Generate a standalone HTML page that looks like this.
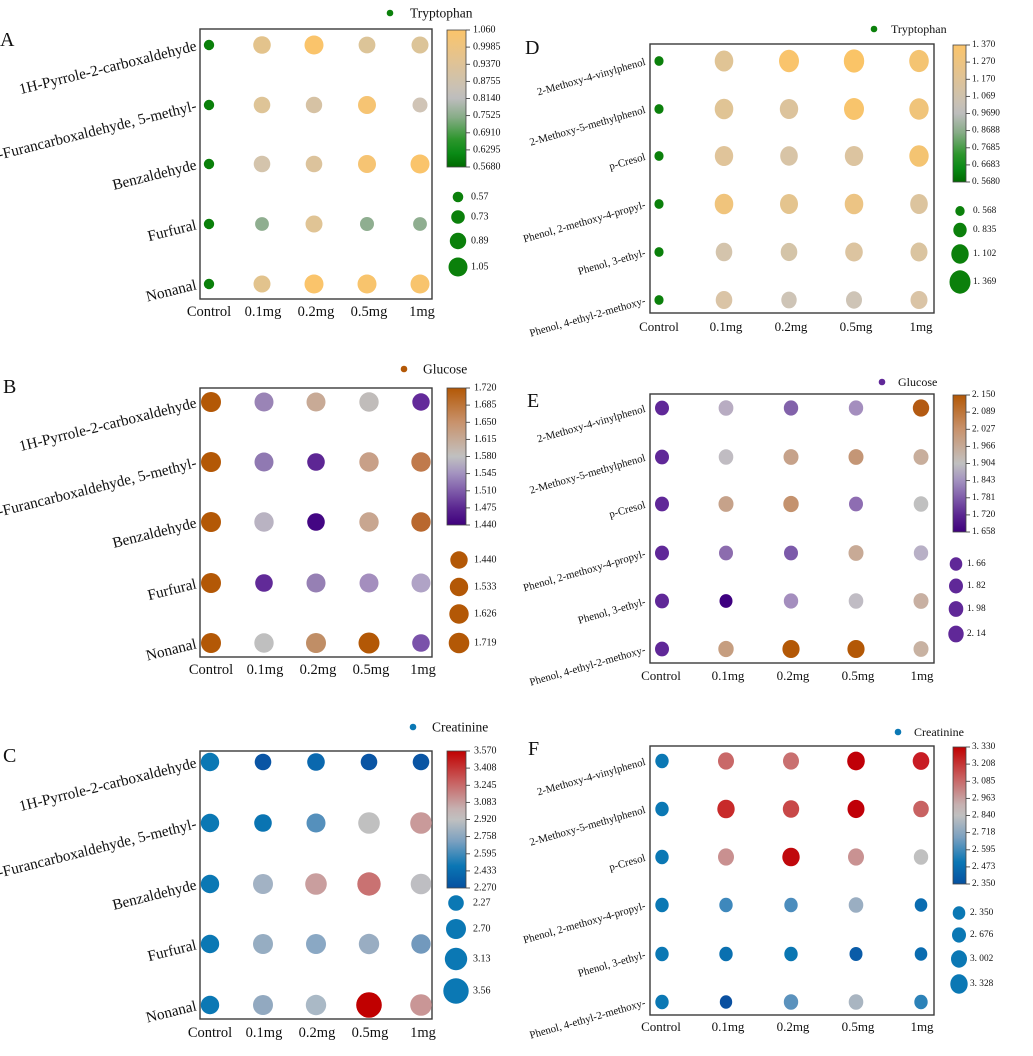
<!DOCTYPE html>
<html>
<head>
<meta charset="utf-8">
<style>
html,body{margin:0;padding:0;background:#fff;}
svg{display:block;}
text{font-family:"Liberation Serif",serif;fill:#111;}
.yl{font-size:15.2px;}
.yr{font-size:10.8px;}
.xl{font-size:14.5px;text-anchor:middle;}
.xr{font-size:13px;text-anchor:middle;}
.cbl{font-size:10px;dominant-baseline:central;}
.cbr{font-size:9.3px;dominant-baseline:central;fill:#333;}
.lt{font-size:13.5px;}
.ltr{font-size:12px;}
.pl{font-size:20px;}
.frame{fill:none;stroke:#3a3a3a;stroke-width:1.4;}
.cb{stroke:#444;stroke-width:0.8;}
.tk{stroke:#444;stroke-width:0.9;}
</style>
</head>
<body>
<svg width="1033" height="1056" viewBox="0 0 1033 1056" xmlns="http://www.w3.org/2000/svg">
<defs>
<linearGradient id="gA" x1="0" y1="0" x2="0" y2="1">
<stop offset="0" stop-color="#fbc46a"/>
<stop offset="0.22" stop-color="#e2c392"/>
<stop offset="0.42" stop-color="#c9c1b4"/>
<stop offset="0.5" stop-color="#bdbdbd"/>
<stop offset="0.64" stop-color="#86ac86"/>
<stop offset="0.8" stop-color="#2c962c"/>
<stop offset="0.9" stop-color="#0a8a16"/>
<stop offset="1" stop-color="#006a00"/>
</linearGradient>
<linearGradient id="gB" x1="0" y1="0" x2="0" y2="1">
<stop offset="0" stop-color="#b35806"/>
<stop offset="0.25" stop-color="#c8926c"/>
<stop offset="0.45" stop-color="#c4b8b0"/>
<stop offset="0.5" stop-color="#c0c0c0"/>
<stop offset="0.62" stop-color="#a494c0"/>
<stop offset="0.76" stop-color="#7c58a8"/>
<stop offset="0.88" stop-color="#5a2590"/>
<stop offset="1" stop-color="#3f007d"/>
</linearGradient>
<linearGradient id="gC" x1="0" y1="0" x2="0" y2="1">
<stop offset="0" stop-color="#c00000"/>
<stop offset="0.22" stop-color="#c85e5e"/>
<stop offset="0.42" stop-color="#c6b0b0"/>
<stop offset="0.5" stop-color="#c0c0c0"/>
<stop offset="0.66" stop-color="#7aa0c0"/>
<stop offset="0.84" stop-color="#0a76b4"/>
<stop offset="1" stop-color="#0550a0"/>
</linearGradient>
</defs>
<rect width="1033" height="1056" fill="#fff"/>

<!-- ================= PANEL A ================= -->
<text class="pl" x="0" y="46">A</text>
<circle cx="390" cy="13" r="3.3" fill="#0b800b"/>
<text class="lt" x="410" y="17.5">Tryptophan</text>
<rect class="frame" x="200" y="29" width="232" height="270"/>
<g>
<circle cx="209" cy="45" r="5.2" fill="#0b800b"/>
<circle cx="262" cy="45" r="8.8" fill="#e3c38c"/>
<circle cx="314" cy="45" r="9.5" fill="#fac46b"/>
<circle cx="367" cy="45" r="8.4" fill="#dcc498"/>
<circle cx="420" cy="45" r="8.5" fill="#dcc498"/>
<circle cx="209" cy="105" r="5.2" fill="#0b800b"/>
<circle cx="262" cy="105" r="8.3" fill="#dec497"/>
<circle cx="314" cy="105" r="8.2" fill="#d6c2a4"/>
<circle cx="367" cy="105" r="9" fill="#f6c473"/>
<circle cx="420" cy="105" r="7.5" fill="#d0c4b6"/>
<circle cx="209" cy="164" r="5.2" fill="#0b800b"/>
<circle cx="262" cy="164" r="8.3" fill="#d4c4ac"/>
<circle cx="314" cy="164" r="8.3" fill="#dcc39c"/>
<circle cx="367" cy="164" r="9" fill="#f6c473"/>
<circle cx="420" cy="164" r="9.5" fill="#fac46b"/>
<circle cx="209" cy="224" r="5.2" fill="#0b800b"/>
<circle cx="262" cy="224" r="6.9" fill="#8fae90"/>
<circle cx="314" cy="224" r="8.5" fill="#e0c495"/>
<circle cx="367" cy="224" r="7" fill="#8fae90"/>
<circle cx="420" cy="224" r="6.9" fill="#8fae90"/>
<circle cx="209" cy="284" r="5.2" fill="#0b800b"/>
<circle cx="262" cy="284" r="8.5" fill="#e2c38d"/>
<circle cx="314" cy="284" r="9.5" fill="#fac46b"/>
<circle cx="367" cy="284" r="9.5" fill="#f8c46d"/>
<circle cx="420" cy="284" r="9.5" fill="#f8c46d"/>
</g>
<g class="yl">
<text transform="translate(196,45) rotate(-14)" text-anchor="end" dy="0.35em">1H-Pyrrole-2-carboxaldehyde</text>
<text transform="translate(196,105) rotate(-14)" text-anchor="end" dy="0.35em">2-Furancarboxaldehyde, 5-methyl-</text>
<text transform="translate(196,164) rotate(-14)" text-anchor="end" dy="0.35em">Benzaldehyde</text>
<text transform="translate(196,224) rotate(-14)" text-anchor="end" dy="0.35em">Furfural</text>
<text transform="translate(196,284) rotate(-14)" text-anchor="end" dy="0.35em">Nonanal</text>
</g>
<g class="xl">
<text x="209" y="316">Control</text><text x="263" y="316">0.1mg</text><text x="316" y="316">0.2mg</text><text x="369" y="316">0.5mg</text><text x="422" y="316">1mg</text>
</g>
<rect class="cb" x="447" y="30" width="19" height="137" fill="url(#gA)"/>
<g class="tk">
<line x1="466" y1="30" x2="470" y2="30"/><line x1="466" y1="47.1" x2="470" y2="47.1"/><line x1="466" y1="64.3" x2="470" y2="64.3"/><line x1="466" y1="81.4" x2="470" y2="81.4"/><line x1="466" y1="98.5" x2="470" y2="98.5"/><line x1="466" y1="115.6" x2="470" y2="115.6"/><line x1="466" y1="132.8" x2="470" y2="132.8"/><line x1="466" y1="149.9" x2="470" y2="149.9"/><line x1="466" y1="167" x2="470" y2="167"/>
</g>
<g class="cbl">
<text x="473" y="30">1.060</text><text x="473" y="47.1">0.9985</text><text x="473" y="64.3">0.9370</text><text x="473" y="81.4">0.8755</text><text x="473" y="98.5">0.8140</text><text x="473" y="115.6">0.7525</text><text x="473" y="132.8">0.6910</text><text x="473" y="149.9">0.6295</text><text x="473" y="167">0.5680</text>
</g>
<circle cx="458" cy="197" r="5.3" fill="#0b800b"/>
<circle cx="458" cy="217" r="6.8" fill="#0b800b"/>
<circle cx="458" cy="241" r="8.2" fill="#0b800b"/>
<circle cx="458" cy="267" r="9.5" fill="#0b800b"/>
<g class="cbl"><text x="471" y="197">0.57</text><text x="471" y="217">0.73</text><text x="471" y="241">0.89</text><text x="471" y="267">1.05</text></g>

<!-- ================= PANEL B ================= -->
<text class="pl" x="3" y="393">B</text>
<circle cx="404" cy="369" r="3.3" fill="#b35806"/>
<text class="lt" x="423" y="373.5">Glucose</text>
<rect class="frame" x="200" y="388" width="232" height="269"/>
<g>
<circle cx="211" cy="402" r="10" fill="#b35806"/>
<circle cx="264" cy="402" r="9.5" fill="#9a84b6"/>
<circle cx="316" cy="402" r="9.5" fill="#c8aa96"/>
<circle cx="369" cy="402" r="9.7" fill="#c0bcba"/>
<circle cx="421" cy="402" r="8.7" fill="#632a9a"/>
<circle cx="211" cy="462" r="10" fill="#b35806"/>
<circle cx="264" cy="462" r="9.5" fill="#9079b2"/>
<circle cx="316" cy="462" r="8.8" fill="#5d2694"/>
<circle cx="369" cy="462" r="9.7" fill="#c8a088"/>
<circle cx="421" cy="462" r="9.7" fill="#c07a4c"/>
<circle cx="211" cy="522" r="10" fill="#b35806"/>
<circle cx="264" cy="522" r="9.7" fill="#b9b3c2"/>
<circle cx="316" cy="522" r="8.8" fill="#430683"/>
<circle cx="369" cy="522" r="9.7" fill="#c8a690"/>
<circle cx="421" cy="522" r="9.7" fill="#b9682e"/>
<circle cx="211" cy="583" r="10" fill="#b35806"/>
<circle cx="264" cy="583" r="8.8" fill="#612a98"/>
<circle cx="316" cy="583" r="9.5" fill="#9680b4"/>
<circle cx="369" cy="583" r="9.5" fill="#a48ebe"/>
<circle cx="421" cy="583" r="9.5" fill="#b0a3c6"/>
<circle cx="211" cy="643" r="10" fill="#b35806"/>
<circle cx="264" cy="643" r="9.7" fill="#bfbfbf"/>
<circle cx="316" cy="643" r="10" fill="#c08e66"/>
<circle cx="369" cy="643" r="10.5" fill="#b35806"/>
<circle cx="421" cy="643" r="8.8" fill="#7a52aa"/>
</g>
<g class="yl">
<text transform="translate(196,402) rotate(-14)" text-anchor="end" dy="0.35em">1H-Pyrrole-2-carboxaldehyde</text>
<text transform="translate(196,462) rotate(-14)" text-anchor="end" dy="0.35em">2-Furancarboxaldehyde, 5-methyl-</text>
<text transform="translate(196,522) rotate(-14)" text-anchor="end" dy="0.35em">Benzaldehyde</text>
<text transform="translate(196,583) rotate(-14)" text-anchor="end" dy="0.35em">Furfural</text>
<text transform="translate(196,643) rotate(-14)" text-anchor="end" dy="0.35em">Nonanal</text>
</g>
<g class="xl">
<text x="211" y="674">Control</text><text x="265" y="674">0.1mg</text><text x="318" y="674">0.2mg</text><text x="371" y="674">0.5mg</text><text x="423" y="674">1mg</text>
</g>
<rect class="cb" x="447" y="388" width="19" height="137" fill="url(#gB)"/>
<g class="tk">
<line x1="466" y1="388" x2="470" y2="388"/><line x1="466" y1="405.1" x2="470" y2="405.1"/><line x1="466" y1="422.3" x2="470" y2="422.3"/><line x1="466" y1="439.4" x2="470" y2="439.4"/><line x1="466" y1="456.5" x2="470" y2="456.5"/><line x1="466" y1="473.6" x2="470" y2="473.6"/><line x1="466" y1="490.8" x2="470" y2="490.8"/><line x1="466" y1="507.9" x2="470" y2="507.9"/><line x1="466" y1="525" x2="470" y2="525"/>
</g>
<g class="cbl">
<text x="474" y="388">1.720</text><text x="474" y="405.1">1.685</text><text x="474" y="422.3">1.650</text><text x="474" y="439.4">1.615</text><text x="474" y="456.5">1.580</text><text x="474" y="473.6">1.545</text><text x="474" y="490.8">1.510</text><text x="474" y="507.9">1.475</text><text x="474" y="525">1.440</text>
</g>
<circle cx="459" cy="560" r="8.7" fill="#b35806"/>
<circle cx="459" cy="587" r="9.2" fill="#b35806"/>
<circle cx="459" cy="614" r="9.7" fill="#b35806"/>
<circle cx="459" cy="643" r="10.3" fill="#b35806"/>
<g class="cbl"><text x="474" y="560">1.440</text><text x="474" y="587">1.533</text><text x="474" y="614">1.626</text><text x="474" y="643">1.719</text></g>

<!-- ================= PANEL C ================= -->
<text class="pl" x="3" y="762">C</text>
<circle cx="413" cy="727" r="3.3" fill="#0b78b4"/>
<text class="lt" x="432" y="731.5">Creatinine</text>
<rect class="frame" x="200" y="751" width="232" height="268"/>
<g>
<circle cx="210" cy="762" r="9.2" fill="#0b78b4"/>
<circle cx="263" cy="762" r="8.3" fill="#0a55a4"/>
<circle cx="316" cy="762" r="8.8" fill="#0a68ae"/>
<circle cx="369" cy="762" r="8.3" fill="#0a55a4"/>
<circle cx="421" cy="762" r="8.3" fill="#0a55a4"/>
<circle cx="210" cy="823" r="9.2" fill="#0b78b4"/>
<circle cx="263" cy="823" r="8.8" fill="#0a74b2"/>
<circle cx="316" cy="823" r="9.5" fill="#5590bc"/>
<circle cx="369" cy="823" r="10.8" fill="#c0c0c0"/>
<circle cx="421" cy="823" r="10.8" fill="#c99a9a"/>
<circle cx="210" cy="884" r="9.2" fill="#0b78b4"/>
<circle cx="263" cy="884" r="10" fill="#a2b2c4"/>
<circle cx="316" cy="884" r="10.8" fill="#c99e9e"/>
<circle cx="369" cy="884" r="11.7" fill="#c97272"/>
<circle cx="421" cy="884" r="10.3" fill="#bebec2"/>
<circle cx="210" cy="944" r="9.2" fill="#0b78b4"/>
<circle cx="263" cy="944" r="10" fill="#96adc2"/>
<circle cx="316" cy="944" r="10" fill="#8aa8c4"/>
<circle cx="369" cy="944" r="10.2" fill="#99adc2"/>
<circle cx="421" cy="944" r="9.7" fill="#7299bd"/>
<circle cx="210" cy="1005" r="9.2" fill="#0b78b4"/>
<circle cx="263" cy="1005" r="10" fill="#92a9c0"/>
<circle cx="316" cy="1005" r="10.2" fill="#aab9c6"/>
<circle cx="369" cy="1005" r="12.8" fill="#c00000"/>
<circle cx="421" cy="1005" r="10.8" fill="#c99696"/>
</g>
<g class="yl">
<text transform="translate(196,762) rotate(-14)" text-anchor="end" dy="0.35em">1H-Pyrrole-2-carboxaldehyde</text>
<text transform="translate(196,823) rotate(-14)" text-anchor="end" dy="0.35em">2-Furancarboxaldehyde, 5-methyl-</text>
<text transform="translate(196,884) rotate(-14)" text-anchor="end" dy="0.35em">Benzaldehyde</text>
<text transform="translate(196,944) rotate(-14)" text-anchor="end" dy="0.35em">Furfural</text>
<text transform="translate(196,1005) rotate(-14)" text-anchor="end" dy="0.35em">Nonanal</text>
</g>
<g class="xl">
<text x="210" y="1037">Control</text><text x="264" y="1037">0.1mg</text><text x="317" y="1037">0.2mg</text><text x="370" y="1037">0.5mg</text><text x="423" y="1037">1mg</text>
</g>
<rect class="cb" x="447" y="751" width="19" height="137" fill="url(#gC)"/>
<g class="tk">
<line x1="466" y1="751" x2="470" y2="751"/><line x1="466" y1="768.1" x2="470" y2="768.1"/><line x1="466" y1="785.3" x2="470" y2="785.3"/><line x1="466" y1="802.4" x2="470" y2="802.4"/><line x1="466" y1="819.5" x2="470" y2="819.5"/><line x1="466" y1="836.6" x2="470" y2="836.6"/><line x1="466" y1="853.8" x2="470" y2="853.8"/><line x1="466" y1="870.9" x2="470" y2="870.9"/><line x1="466" y1="888" x2="470" y2="888"/>
</g>
<g class="cbl">
<text x="474" y="751">3.570</text><text x="474" y="768.1">3.408</text><text x="474" y="785.3">3.245</text><text x="474" y="802.4">3.083</text><text x="474" y="819.5">2.920</text><text x="474" y="836.6">2.758</text><text x="474" y="853.8">2.595</text><text x="474" y="870.9">2.433</text><text x="474" y="888">2.270</text>
</g>
<circle cx="456" cy="903" r="7.8" fill="#0b78b4"/>
<circle cx="456" cy="929" r="10" fill="#0b78b4"/>
<circle cx="456" cy="959" r="11.2" fill="#0b78b4"/>
<circle cx="456" cy="991" r="12.7" fill="#0b78b4"/>
<g class="cbl"><text x="473" y="903">2.27</text><text x="473" y="929">2.70</text><text x="473" y="959">3.13</text><text x="473" y="991">3.56</text></g>

<!-- ================= PANEL D ================= -->
<text class="pl" x="525" y="54">D</text>
<circle cx="874" cy="29" r="3.3" fill="#0b800b"/>
<text class="ltr" x="891" y="33">Tryptophan</text>
<rect class="frame" x="650" y="44" width="284" height="269"/>
<g>
<ellipse cx="659" cy="61" rx="4.6" ry="4.9" fill="#0b800b"/>
<ellipse cx="724" cy="61" rx="9.3" ry="10.5" fill="#e0c495"/>
<ellipse cx="789" cy="61" rx="10" ry="11.2" fill="#f9c46c"/>
<ellipse cx="854" cy="61" rx="10.2" ry="11.6" fill="#fac467"/>
<ellipse cx="919" cy="61" rx="9.8" ry="11.1" fill="#f4c472"/>
<ellipse cx="659" cy="109" rx="4.6" ry="4.9" fill="#0b800b"/>
<ellipse cx="724" cy="109" rx="9.3" ry="10.3" fill="#e0c495"/>
<ellipse cx="789" cy="109" rx="9.2" ry="10" fill="#dcc39c"/>
<ellipse cx="854" cy="109" rx="10" ry="11" fill="#f8c46c"/>
<ellipse cx="919" cy="109" rx="9.7" ry="10.7" fill="#f0c47a"/>
<ellipse cx="659" cy="156" rx="4.6" ry="4.9" fill="#0b800b"/>
<ellipse cx="724" cy="156" rx="9.2" ry="10" fill="#e0c49a"/>
<ellipse cx="789" cy="156" rx="8.8" ry="9.7" fill="#d8c4a6"/>
<ellipse cx="854" cy="156" rx="9.2" ry="10" fill="#dcc4a0"/>
<ellipse cx="919" cy="156" rx="9.7" ry="10.8" fill="#f4c472"/>
<ellipse cx="659" cy="204" rx="4.6" ry="4.9" fill="#0b800b"/>
<ellipse cx="724" cy="204" rx="9.3" ry="10.3" fill="#f0c47c"/>
<ellipse cx="789" cy="204" rx="9" ry="10" fill="#e4c48e"/>
<ellipse cx="854" cy="204" rx="9.3" ry="10.3" fill="#ecc484"/>
<ellipse cx="919" cy="204" rx="8.8" ry="10" fill="#dcc49e"/>
<ellipse cx="659" cy="252" rx="4.6" ry="4.9" fill="#0b800b"/>
<ellipse cx="724" cy="252" rx="8.3" ry="9.3" fill="#d4c4ac"/>
<ellipse cx="789" cy="252" rx="8.3" ry="9.1" fill="#d4c4a8"/>
<ellipse cx="854" cy="252" rx="8.8" ry="9.5" fill="#dcc4a0"/>
<ellipse cx="919" cy="252" rx="8.5" ry="9.5" fill="#dac4a0"/>
<ellipse cx="659" cy="300" rx="4.6" ry="4.9" fill="#0b800b"/>
<ellipse cx="724" cy="300" rx="8.3" ry="9" fill="#dac4a6"/>
<ellipse cx="789" cy="300" rx="7.7" ry="8.4" fill="#cec4b6"/>
<ellipse cx="854" cy="300" rx="8" ry="8.7" fill="#cec4b6"/>
<ellipse cx="919" cy="300" rx="8.5" ry="9" fill="#dac4a6"/>
</g>
<g class="yr">
<text transform="translate(645,61) rotate(-16)" text-anchor="end" dy="0.35em">2-Methoxy-4-vinylphenol</text>
<text transform="translate(645,109) rotate(-16)" text-anchor="end" dy="0.35em">2-Methoxy-5-methylphenol</text>
<text transform="translate(645,156) rotate(-16)" text-anchor="end" dy="0.35em">p-Cresol</text>
<text transform="translate(645,204) rotate(-16)" text-anchor="end" dy="0.35em">Phenol, 2-methoxy-4-propyl-</text>
<text transform="translate(645,252) rotate(-16)" text-anchor="end" dy="0.35em">Phenol, 3-ethyl-</text>
<text transform="translate(645,300) rotate(-16)" text-anchor="end" dy="0.35em">Phenol, 4-ethyl-2-methoxy-</text>
</g>
<g class="xr">
<text x="659" y="331">Control</text><text x="726" y="331">0.1mg</text><text x="791" y="331">0.2mg</text><text x="856" y="331">0.5mg</text><text x="921" y="331">1mg</text>
</g>
<rect class="cb" x="953" y="45" width="13" height="137" fill="url(#gA)"/>
<g class="tk">
<line x1="966" y1="45" x2="970" y2="45"/><line x1="966" y1="62.1" x2="970" y2="62.1"/><line x1="966" y1="79.3" x2="970" y2="79.3"/><line x1="966" y1="96.4" x2="970" y2="96.4"/><line x1="966" y1="113.5" x2="970" y2="113.5"/><line x1="966" y1="130.6" x2="970" y2="130.6"/><line x1="966" y1="147.8" x2="970" y2="147.8"/><line x1="966" y1="164.9" x2="970" y2="164.9"/><line x1="966" y1="182" x2="970" y2="182"/>
</g>
<g class="cbr">
<text x="972" y="45">1. 370</text><text x="972" y="62.1">1. 270</text><text x="972" y="79.3">1. 170</text><text x="972" y="96.4">1. 069</text><text x="972" y="113.5">0. 9690</text><text x="972" y="130.6">0. 8688</text><text x="972" y="147.8">0. 7685</text><text x="972" y="164.9">0. 6683</text><text x="972" y="182">0. 5680</text>
</g>
<ellipse cx="960" cy="211" rx="4.7" ry="5" fill="#0b800b"/>
<ellipse cx="960" cy="230" rx="6.7" ry="7.2" fill="#0b800b"/>
<ellipse cx="960" cy="254" rx="8.7" ry="9.7" fill="#0b800b"/>
<ellipse cx="960" cy="282" rx="10.5" ry="11.7" fill="#0b800b"/>
<g class="cbr"><text x="973" y="211">0. 568</text><text x="973" y="230">0. 835</text><text x="973" y="254">1. 102</text><text x="973" y="282">1. 369</text></g>

<!-- ================= PANEL E ================= -->
<text class="pl" x="527" y="407">E</text>
<circle cx="882" cy="382" r="3.3" fill="#602898"/>
<text class="ltr" x="898" y="386">Glucose</text>
<rect class="frame" x="650" y="394" width="284" height="269"/>
<g>
<ellipse cx="662" cy="408" rx="7" ry="7.4" fill="#602898"/>
<ellipse cx="726" cy="408" rx="7.4" ry="7.8" fill="#b8acc2"/>
<ellipse cx="791" cy="408" rx="7.2" ry="7.6" fill="#8262aa"/>
<ellipse cx="856" cy="408" rx="7.2" ry="7.6" fill="#a48ebe"/>
<ellipse cx="921" cy="408" rx="8.2" ry="8.6" fill="#b35a12"/>
<ellipse cx="662" cy="457" rx="7" ry="7.4" fill="#602898"/>
<ellipse cx="726" cy="457" rx="7.3" ry="7.7" fill="#c0bcc2"/>
<ellipse cx="791" cy="457" rx="7.5" ry="7.9" fill="#c6a28a"/>
<ellipse cx="856" cy="457" rx="7.5" ry="7.9" fill="#c49676"/>
<ellipse cx="921" cy="457" rx="7.5" ry="7.9" fill="#c8ae9c"/>
<ellipse cx="662" cy="504" rx="7" ry="7.4" fill="#602898"/>
<ellipse cx="726" cy="504" rx="7.5" ry="7.9" fill="#c6a28a"/>
<ellipse cx="791" cy="504" rx="7.7" ry="8.1" fill="#c4926e"/>
<ellipse cx="856" cy="504" rx="7" ry="7.4" fill="#8e6db2"/>
<ellipse cx="921" cy="504" rx="7.3" ry="7.7" fill="#c0c0c0"/>
<ellipse cx="662" cy="553" rx="7" ry="7.4" fill="#602898"/>
<ellipse cx="726" cy="553" rx="7" ry="7.4" fill="#8c6cae"/>
<ellipse cx="791" cy="553" rx="7" ry="7.4" fill="#7c5aaa"/>
<ellipse cx="856" cy="553" rx="7.5" ry="7.9" fill="#c8aa96"/>
<ellipse cx="921" cy="553" rx="7.2" ry="7.6" fill="#b8b0c6"/>
<ellipse cx="662" cy="601" rx="7" ry="7.4" fill="#602898"/>
<ellipse cx="726" cy="601" rx="6.5" ry="6.9" fill="#3e0080"/>
<ellipse cx="791" cy="601" rx="7.2" ry="7.6" fill="#a48ebe"/>
<ellipse cx="856" cy="601" rx="7.3" ry="7.7" fill="#c0bcc4"/>
<ellipse cx="921" cy="601" rx="7.5" ry="7.9" fill="#c8b0a2"/>
<ellipse cx="662" cy="649" rx="7" ry="7.4" fill="#602898"/>
<ellipse cx="726" cy="649" rx="7.7" ry="8.1" fill="#c69e80"/>
<ellipse cx="791" cy="649" rx="8.6" ry="9" fill="#b35806"/>
<ellipse cx="856" cy="649" rx="8.6" ry="9" fill="#b35806"/>
<ellipse cx="921" cy="649" rx="7.5" ry="7.9" fill="#c8b2a2"/>
</g>
<g class="yr">
<text transform="translate(645,408) rotate(-16)" text-anchor="end" dy="0.35em">2-Methoxy-4-vinylphenol</text>
<text transform="translate(645,457) rotate(-16)" text-anchor="end" dy="0.35em">2-Methoxy-5-methylphenol</text>
<text transform="translate(645,504) rotate(-16)" text-anchor="end" dy="0.35em">p-Cresol</text>
<text transform="translate(645,553) rotate(-16)" text-anchor="end" dy="0.35em">Phenol, 2-methoxy-4-propyl-</text>
<text transform="translate(645,601) rotate(-16)" text-anchor="end" dy="0.35em">Phenol, 3-ethyl-</text>
<text transform="translate(645,649) rotate(-16)" text-anchor="end" dy="0.35em">Phenol, 4-ethyl-2-methoxy-</text>
</g>
<g class="xr">
<text x="661" y="680">Control</text><text x="728" y="680">0.1mg</text><text x="793" y="680">0.2mg</text><text x="858" y="680">0.5mg</text><text x="922" y="680">1mg</text>
</g>
<rect class="cb" x="953" y="395" width="13" height="137" fill="url(#gB)"/>
<g class="tk">
<line x1="966" y1="395" x2="970" y2="395"/><line x1="966" y1="412.1" x2="970" y2="412.1"/><line x1="966" y1="429.3" x2="970" y2="429.3"/><line x1="966" y1="446.4" x2="970" y2="446.4"/><line x1="966" y1="463.5" x2="970" y2="463.5"/><line x1="966" y1="480.6" x2="970" y2="480.6"/><line x1="966" y1="497.8" x2="970" y2="497.8"/><line x1="966" y1="514.9" x2="970" y2="514.9"/><line x1="966" y1="532" x2="970" y2="532"/>
</g>
<g class="cbr">
<text x="972" y="395">2. 150</text><text x="972" y="412.1">2. 089</text><text x="972" y="429.3">2. 027</text><text x="972" y="446.4">1. 966</text><text x="972" y="463.5">1. 904</text><text x="972" y="480.6">1. 843</text><text x="972" y="497.8">1. 781</text><text x="972" y="514.9">1. 720</text><text x="972" y="532">1. 658</text>
</g>
<ellipse cx="956" cy="564" rx="6.3" ry="6.8" fill="#602898"/>
<ellipse cx="956" cy="586" rx="7" ry="7.5" fill="#602898"/>
<ellipse cx="956" cy="609" rx="7.3" ry="7.9" fill="#602898"/>
<ellipse cx="956" cy="634" rx="7.7" ry="8.4" fill="#602898"/>
<g class="cbr"><text x="967" y="564">1. 66</text><text x="967" y="586">1. 82</text><text x="967" y="609">1. 98</text><text x="967" y="634">2. 14</text></g>

<!-- ================= PANEL F ================= -->
<text class="pl" x="528" y="755">F</text>
<circle cx="898" cy="732" r="3.3" fill="#0b78b4"/>
<text class="ltr" x="914" y="736">Creatinine</text>
<rect class="frame" x="650" y="746" width="284" height="269"/>
<g>
<ellipse cx="662" cy="761" rx="6.7" ry="7.2" fill="#0b78b4"/>
<ellipse cx="726" cy="761" rx="8" ry="8.6" fill="#c96868"/>
<ellipse cx="791" cy="761" rx="8" ry="8.6" fill="#c97070"/>
<ellipse cx="856" cy="761" rx="8.8" ry="9.4" fill="#c00008"/>
<ellipse cx="921" cy="761" rx="8.3" ry="8.9" fill="#c81c24"/>
<ellipse cx="662" cy="809" rx="6.7" ry="7.2" fill="#0b78b4"/>
<ellipse cx="726" cy="809" rx="8.7" ry="9.3" fill="#c82a2a"/>
<ellipse cx="791" cy="809" rx="8.2" ry="8.8" fill="#c84848"/>
<ellipse cx="856" cy="809" rx="8.5" ry="9.1" fill="#c00008"/>
<ellipse cx="921" cy="809" rx="7.8" ry="8.3" fill="#c86262"/>
<ellipse cx="662" cy="857" rx="6.7" ry="7.2" fill="#0b78b4"/>
<ellipse cx="726" cy="857" rx="8" ry="8.6" fill="#c99090"/>
<ellipse cx="791" cy="857" rx="8.7" ry="9.3" fill="#c0080c"/>
<ellipse cx="856" cy="857" rx="8" ry="8.6" fill="#c99292"/>
<ellipse cx="921" cy="857" rx="7.2" ry="7.7" fill="#c0c0c0"/>
<ellipse cx="662" cy="905" rx="6.7" ry="7.2" fill="#0b78b4"/>
<ellipse cx="726" cy="905" rx="6.7" ry="7.2" fill="#3e88bc"/>
<ellipse cx="791" cy="905" rx="6.7" ry="7.2" fill="#4c8dbd"/>
<ellipse cx="856" cy="905" rx="7.3" ry="7.8" fill="#9aaec2"/>
<ellipse cx="921" cy="905" rx="6.3" ry="6.8" fill="#0a6cb0"/>
<ellipse cx="662" cy="954" rx="6.7" ry="7.2" fill="#0b78b4"/>
<ellipse cx="726" cy="954" rx="6.7" ry="7.2" fill="#0a70b0"/>
<ellipse cx="791" cy="954" rx="6.7" ry="7.2" fill="#0a76b2"/>
<ellipse cx="856" cy="954" rx="6.5" ry="7" fill="#0a5ca8"/>
<ellipse cx="921" cy="954" rx="6.3" ry="6.8" fill="#0a6cb0"/>
<ellipse cx="662" cy="1002" rx="6.7" ry="7.2" fill="#0b78b4"/>
<ellipse cx="726" cy="1002" rx="6.2" ry="6.7" fill="#0a50a0"/>
<ellipse cx="791" cy="1002" rx="7.2" ry="7.7" fill="#5b92bd"/>
<ellipse cx="856" cy="1002" rx="7.3" ry="7.8" fill="#a9b5c1"/>
<ellipse cx="921" cy="1002" rx="6.7" ry="7.2" fill="#2c82b8"/>
</g>
<g class="yr">
<text transform="translate(645,761) rotate(-16)" text-anchor="end" dy="0.35em">2-Methoxy-4-vinylphenol</text>
<text transform="translate(645,809) rotate(-16)" text-anchor="end" dy="0.35em">2-Methoxy-5-methylphenol</text>
<text transform="translate(645,857) rotate(-16)" text-anchor="end" dy="0.35em">p-Cresol</text>
<text transform="translate(645,905) rotate(-16)" text-anchor="end" dy="0.35em">Phenol, 2-methoxy-4-propyl-</text>
<text transform="translate(645,954) rotate(-16)" text-anchor="end" dy="0.35em">Phenol, 3-ethyl-</text>
<text transform="translate(645,1002) rotate(-16)" text-anchor="end" dy="0.35em">Phenol, 4-ethyl-2-methoxy-</text>
</g>
<g class="xr">
<text x="661" y="1031">Control</text><text x="728" y="1031">0.1mg</text><text x="793" y="1031">0.2mg</text><text x="858" y="1031">0.5mg</text><text x="922" y="1031">1mg</text>
</g>
<rect class="cb" x="953" y="747" width="13" height="137" fill="url(#gC)"/>
<g class="tk">
<line x1="966" y1="747" x2="970" y2="747"/><line x1="966" y1="764.1" x2="970" y2="764.1"/><line x1="966" y1="781.3" x2="970" y2="781.3"/><line x1="966" y1="798.4" x2="970" y2="798.4"/><line x1="966" y1="815.5" x2="970" y2="815.5"/><line x1="966" y1="832.6" x2="970" y2="832.6"/><line x1="966" y1="849.8" x2="970" y2="849.8"/><line x1="966" y1="866.9" x2="970" y2="866.9"/><line x1="966" y1="884" x2="970" y2="884"/>
</g>
<g class="cbr">
<text x="972" y="747">3. 330</text><text x="972" y="764.1">3. 208</text><text x="972" y="781.3">3. 085</text><text x="972" y="798.4">2. 963</text><text x="972" y="815.5">2. 840</text><text x="972" y="832.6">2. 718</text><text x="972" y="849.8">2. 595</text><text x="972" y="866.9">2. 473</text><text x="972" y="884">2. 350</text>
</g>
<ellipse cx="959" cy="913" rx="6.3" ry="6.8" fill="#0b78b4"/>
<ellipse cx="959" cy="935" rx="7" ry="7.6" fill="#0b78b4"/>
<ellipse cx="959" cy="959" rx="8" ry="8.7" fill="#0b78b4"/>
<ellipse cx="959" cy="984" rx="8.7" ry="9.8" fill="#0b78b4"/>
<g class="cbr"><text x="970" y="913">2. 350</text><text x="970" y="935">2. 676</text><text x="970" y="959">3. 002</text><text x="970" y="984">3. 328</text></g>
</svg>
</body>
</html>
